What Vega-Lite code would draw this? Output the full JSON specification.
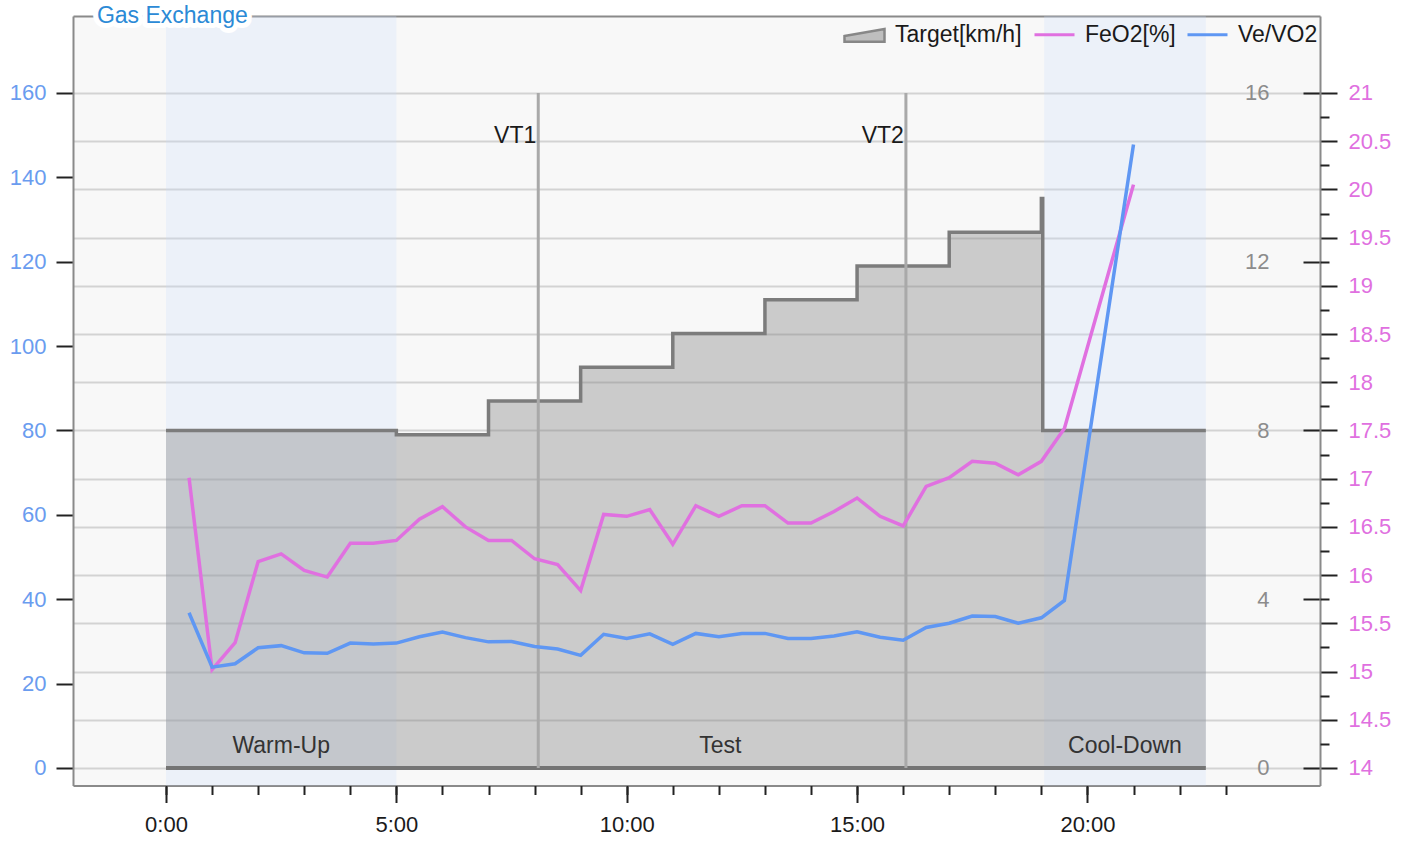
{
  "$schema": "https://vega.github.io/schema/vega-lite/v6.json",
  "width": 1247,
  "height": 769.5,
  "autosize": {"type": "none"},
  "padding": {"left": 73, "top": 16, "right": 90, "bottom": 57.5},
  "background": "#ffffff",
  "view": {"fill": "#f8f8f8", "stroke": null},
  "config": {
    "font": "Liberation Sans",
    "axis": {"labelFont": "Liberation Sans", "labelFontSize": 22, "tickColor": "#222222", "tickWidth": 2, "domainColor": "#8a8a8a", "domainWidth": 2, "grid": false, "labelFlush": false, "labelOverlap": false}
  },
  "datasets": {
    "phases": [
      {"phase": "Warm-Up", "start": 0, "end": 5, "band": true},
      {"phase": "Test", "start": 5, "end": 19.06, "band": false},
      {"phase": "Cool-Down", "start": 19.06, "end": 22.57, "band": true}
    ],
    "speed": [
      {"t": 0, "kmh": 8.0}, {"t": 5, "kmh": 7.9}, {"t": 7, "kmh": 8.7}, {"t": 9, "kmh": 9.5},
      {"t": 11, "kmh": 10.3}, {"t": 13, "kmh": 11.1}, {"t": 15, "kmh": 11.9}, {"t": 17, "kmh": 12.7},
      {"t": 19, "kmh": 13.5}, {"t": 19.03, "kmh": 8.0}, {"t": 22.57, "kmh": 8.0}
    ],
    "thresholds": [{"t": 8.08, "label": "VT1"}, {"t": 16.06, "label": "VT2"}],
    "gas": [
      {"t": 0.5, "feo2": 17.01, "vevo2": 36.8},
      {"t": 1.0, "feo2": 15.02, "vevo2": 23.9},
      {"t": 1.5, "feo2": 15.30, "vevo2": 24.7},
      {"t": 2.0, "feo2": 16.14, "vevo2": 28.5},
      {"t": 2.5, "feo2": 16.22, "vevo2": 29.0},
      {"t": 3.0, "feo2": 16.05, "vevo2": 27.3},
      {"t": 3.5, "feo2": 15.98, "vevo2": 27.2},
      {"t": 4.0, "feo2": 16.33, "vevo2": 29.6},
      {"t": 4.5, "feo2": 16.33, "vevo2": 29.4},
      {"t": 5.0, "feo2": 16.36, "vevo2": 29.6},
      {"t": 5.5, "feo2": 16.58, "vevo2": 31.1},
      {"t": 6.0, "feo2": 16.71, "vevo2": 32.2},
      {"t": 6.5, "feo2": 16.50, "vevo2": 30.9},
      {"t": 7.0, "feo2": 16.36, "vevo2": 29.9},
      {"t": 7.5, "feo2": 16.36, "vevo2": 30.0},
      {"t": 8.0, "feo2": 16.17, "vevo2": 28.8},
      {"t": 8.5, "feo2": 16.11, "vevo2": 28.2},
      {"t": 9.0, "feo2": 15.84, "vevo2": 26.7},
      {"t": 9.5, "feo2": 16.63, "vevo2": 31.7},
      {"t": 10.0, "feo2": 16.61, "vevo2": 30.7},
      {"t": 10.5, "feo2": 16.68, "vevo2": 31.8},
      {"t": 11.0, "feo2": 16.32, "vevo2": 29.3},
      {"t": 11.5, "feo2": 16.72, "vevo2": 31.9},
      {"t": 12.0, "feo2": 16.61, "vevo2": 31.1},
      {"t": 12.5, "feo2": 16.72, "vevo2": 31.9},
      {"t": 13.0, "feo2": 16.72, "vevo2": 31.9},
      {"t": 13.5, "feo2": 16.54, "vevo2": 30.7},
      {"t": 14.0, "feo2": 16.54, "vevo2": 30.7},
      {"t": 14.5, "feo2": 16.66, "vevo2": 31.3},
      {"t": 15.0, "feo2": 16.80, "vevo2": 32.3},
      {"t": 15.5, "feo2": 16.61, "vevo2": 31.0},
      {"t": 16.0, "feo2": 16.51, "vevo2": 30.3},
      {"t": 16.5, "feo2": 16.92, "vevo2": 33.3},
      {"t": 17.0, "feo2": 17.01, "vevo2": 34.3},
      {"t": 17.5, "feo2": 17.18, "vevo2": 36.0},
      {"t": 18.0, "feo2": 17.16, "vevo2": 35.9},
      {"t": 18.5, "feo2": 17.04, "vevo2": 34.3},
      {"t": 19.0, "feo2": 17.18, "vevo2": 35.6},
      {"t": 19.5, "feo2": 17.52, "vevo2": 39.7},
      {"t": 21.0, "feo2": 20.05, "vevo2": 147.8}
    ]
  },
  "resolve": {"scale": {"y": "independent"}, "axis": {"x": "independent"}},
  "layer": [
    {
      "data": {"name": "phases"},
      "transform": [{"filter": "datum.band"}],
      "mark": {"type": "rect", "fill": "#c8dcff", "opacity": 0.23},
      "encoding": {
        "x": {"field": "start", "type": "quantitative", "scale": {"domain": [-2.0187, 25.048], "nice": false, "zero": false}, "axis": {"orient": "top", "domain": true, "ticks": false, "labels": false, "title": null}},
        "x2": {"field": "end"}
      }
    },
    {
      "data": {"name": "gas"},
      "mark": {"type": "line", "strokeOpacity": 0},
      "encoding": {
        "x": {"field": "t", "type": "quantitative", "scale": {"domain": [-2.0187, 25.048], "nice": false, "zero": false}, "axis": null},
        "y": {"field": "feo2", "type": "quantitative", "scale": {"domain": [13.8185, 21.7985], "nice": false, "zero": false}, "axis": {"orient": "right", "grid": true, "gridColor": "#d3d3d3", "gridWidth": 2, "domain": false, "ticks": false, "labels": false, "title": null, "values": [14, 14.5, 15, 15.5, 16, 16.5, 17, 17.5, 18, 18.5, 19, 19.5, 20, 20.5, 21]}}
      }
    },
    {
      "data": {"name": "speed"},
      "mark": {"type": "area", "interpolate": "step-after", "fillOpacity": 0.357},
      "encoding": {
        "x": {"field": "t", "type": "quantitative", "scale": {"domain": [-2.0187, 25.048], "nice": false, "zero": false}, "axis": null},
        "y": {"field": "kmh", "type": "quantitative", "scale": {"domain": [-0.415, 17.825], "nice": false, "zero": false}, "axis": {"orient": "left", "offset": -1247, "values": [0, 4, 8, 12, 16], "domain": false, "tickSize": 17, "labelPadding": 34, "labelColor": "#8c8c8c", "title": null}},
        "y2": {"datum": 0},
        "fill": {
          "datum": "Target[km/h]",
          "scale": {"domain": ["Target[km/h]"], "range": ["#7a7a7a"]},
          "legend": {
            "title": null, "orient": "none", "legendX": 770, "legendY": -3, "direction": "horizontal", "padding": 0,
            "symbolType": "M-1,0.08L1,-0.28L1,0.36L-1,0.36Z", "symbolSize": 1600, "symbolOpacity": 0.45,
            "symbolStrokeColor": "#000000", "symbolStrokeWidth": 2.5,
            "labelFont": "Liberation Sans", "labelFontSize": 23, "labelColor": "#1a1a1a", "labelOffset": 9, "labelLimit": 300
          }
        }
      }
    },
    {
      "data": {"name": "speed"},
      "mark": {"type": "line", "interpolate": "step-after", "strokeWidth": 3.5, "color": "#7c7c7c"},
      "encoding": {
        "x": {"field": "t", "type": "quantitative", "scale": {"domain": [-2.0187, 25.048], "nice": false, "zero": false}, "axis": null},
        "y": {"field": "kmh", "type": "quantitative", "scale": {"domain": [-0.415, 17.825], "nice": false, "zero": false}, "axis": null}
      }
    },
    {
      "data": {"name": "speed"},
      "mark": {"type": "line", "color": "#747474", "strokeWidth": 4},
      "encoding": {
        "x": {"field": "t", "type": "quantitative", "scale": {"domain": [-2.0187, 25.048], "nice": false, "zero": false}, "axis": null},
        "y": {"datum": 0, "type": "quantitative", "scale": {"domain": [-0.415, 17.825], "nice": false, "zero": false}, "axis": null}
      }
    },
    {
      "data": {"name": "thresholds"},
      "mark": {"type": "rule", "color": "#a9a9a9", "strokeWidth": 3},
      "encoding": {
        "x": {"field": "t", "type": "quantitative", "scale": {"domain": [-2.0187, 25.048], "nice": false, "zero": false}, "axis": null},
        "y": {"datum": 0, "type": "quantitative", "scale": {"domain": [-4.15, 178.25], "nice": false, "zero": false}, "axis": null},
        "y2": {"datum": 160}
      }
    },
    {
      "data": {"name": "thresholds"},
      "mark": {"type": "text", "align": "right", "baseline": "alphabetic", "dx": -2, "fontSize": 23, "color": "#1a1a1a"},
      "encoding": {
        "x": {"field": "t", "type": "quantitative", "scale": {"domain": [-2.0187, 25.048], "nice": false, "zero": false}, "axis": null},
        "y": {"datum": 148.1, "type": "quantitative", "scale": {"domain": [-4.15, 178.25], "nice": false, "zero": false}, "axis": null},
        "text": {"field": "label"}
      }
    },
    {
      "data": {"name": "phases"},
      "transform": [{"calculate": "(datum.start + datum.end) / 2", "as": "mid"}],
      "mark": {"type": "text", "align": "center", "baseline": "alphabetic", "dy": -15, "fontSize": 23, "color": "#333333"},
      "encoding": {
        "x": {"field": "mid", "type": "quantitative", "scale": {"domain": [-2.0187, 25.048], "nice": false, "zero": false}, "axis": null},
        "y": {"datum": 0, "type": "quantitative", "scale": {"domain": [-4.15, 178.25], "nice": false, "zero": false}, "axis": null},
        "text": {"field": "phase"}
      }
    },
    {
      "data": {"name": "gas"},
      "mark": {"type": "line", "strokeWidth": 3.5},
      "encoding": {
        "x": {"field": "t", "type": "quantitative", "scale": {"domain": [-2.0187, 25.048], "nice": false, "zero": false}, "axis": {"orient": "bottom", "values": [0, 5, 10, 15, 20], "tickSize": 17, "labelPadding": 12, "labelExpr": "datum.value + ':00'", "labelColor": "#1a1a1a", "title": null}},
        "y": {"field": "feo2", "type": "quantitative", "scale": {"domain": [13.8185, 21.7985], "nice": false, "zero": false}, "axis": {"orient": "right", "values": [14, 14.5, 15, 15.5, 16, 16.5, 17, 17.5, 18, 18.5, 19, 19.5, 20, 20.5, 21], "format": "~g", "tickSize": 17, "labelPadding": 11, "labelColor": "#e070e0", "title": null}},
        "stroke": {
          "datum": "FeO2[%]",
          "scale": {"domain": ["FeO2[%]", "Ve/VO2"], "range": ["#e070e0", "#5f97f3"]},
          "legend": {
            "title": null, "orient": "none", "legendX": 960, "legendY": -3, "direction": "horizontal", "padding": 0,
            "symbolSize": 1600, "symbolStrokeWidth": 3, "symbolType": "stroke",
            "labelFont": "Liberation Sans", "labelFontSize": 23, "labelColor": "#1a1a1a", "labelOffset": 9, "columnPadding": 5, "labelLimit": 300
          }
        }
      }
    },
    {
      "data": {"name": "gas"},
      "mark": {"type": "line", "strokeOpacity": 0},
      "encoding": {
        "x": {"field": "t", "type": "quantitative", "scale": {"domain": [-2.0187, 25.048], "nice": false, "zero": false}, "axis": {"orient": "bottom", "values": [0, 1, 2, 3, 4, 5, 6, 7, 8, 9, 10, 11, 12, 13, 14, 15, 16, 17, 18, 19, 20, 21, 22, 23], "tickSize": 9, "labels": false, "domain": false, "title": null}},
        "y": {"field": "feo2", "type": "quantitative", "scale": {"domain": [13.8185, 21.7985], "nice": false, "zero": false}, "axis": {"orient": "right", "values": [14.25, 14.75, 15.25, 15.75, 16.25, 16.75, 17.25, 17.75, 18.25, 18.75, 19.25, 19.75, 20.25, 20.75], "tickSize": 9, "labels": false, "domain": false, "title": null}}
      }
    },
    {
      "data": {"name": "gas"},
      "mark": {"type": "line", "strokeWidth": 3.5},
      "encoding": {
        "x": {"field": "t", "type": "quantitative", "scale": {"domain": [-2.0187, 25.048], "nice": false, "zero": false}, "axis": null},
        "y": {"field": "vevo2", "type": "quantitative", "scale": {"domain": [-4.15, 178.25], "nice": false, "zero": false}, "axis": {"orient": "left", "values": [0, 20, 40, 60, 80, 100, 120, 140, 160], "tickSize": 17, "labelPadding": 10, "labelColor": "#6a9cef", "title": null}},
        "stroke": {"datum": "Ve/VO2", "scale": {"domain": ["FeO2[%]", "Ve/VO2"], "range": ["#e070e0", "#5f97f3"]}}
      }
    },
    {
      "data": {"values": [{"label": "Gas Exchange"}]},
      "mark": {"type": "text", "align": "left", "baseline": "middle", "fontSize": 23, "fill": "#ffffff", "stroke": "#ffffff", "strokeWidth": 10, "strokeJoin": "round"},
      "encoding": {
        "x": {"datum": -1.5, "type": "quantitative", "scale": {"domain": [-2.0187, 25.048], "nice": false, "zero": false}, "axis": null},
        "y": {"datum": 178.25, "type": "quantitative", "scale": {"domain": [-4.15, 178.25], "nice": false, "zero": false}, "axis": null},
        "text": {"field": "label"}
      }
    },
    {
      "data": {"values": [{"label": "Gas Exchange"}]},
      "mark": {"type": "text", "align": "left", "baseline": "middle", "fontSize": 23, "fill": "#2b8ad6"},
      "encoding": {
        "x": {"datum": -1.5, "type": "quantitative", "scale": {"domain": [-2.0187, 25.048], "nice": false, "zero": false}, "axis": null},
        "y": {"datum": 178.25, "type": "quantitative", "scale": {"domain": [-4.15, 178.25], "nice": false, "zero": false}, "axis": null},
        "text": {"field": "label"}
      }
    }
  ]
}
